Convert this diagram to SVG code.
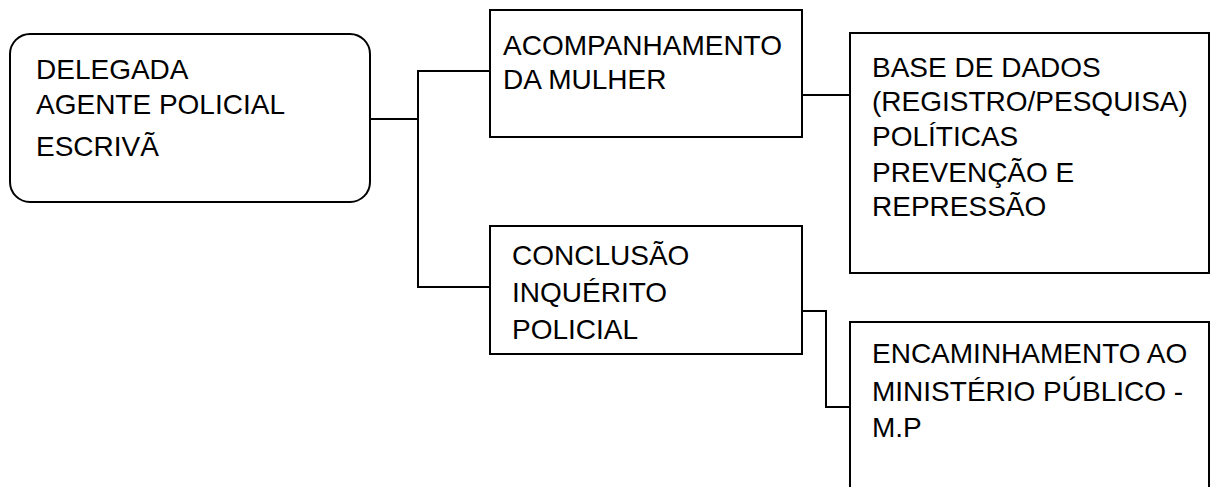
<svg xmlns="http://www.w3.org/2000/svg" width="1210" height="487" viewBox="0 0 1210 487">
<style>
.box{fill:#fff;stroke:#000;stroke-width:2}
.conn{fill:none;stroke:#000;stroke-width:2}
text{font-family:"Liberation Sans",Arial,sans-serif;font-size:28px;fill:#000}
</style>
<rect width="1210" height="487" fill="#fff"/>
<g id="connectors">
<polyline class="conn" points="370,119 418,119"/>
<polyline class="conn" points="490,71 418,71 418,287 490,287"/>
<polyline class="conn" points="802,95 850,95"/>
<polyline class="conn" points="802,311 826,311 826,407 850,407"/>
</g>
<g id="n1">
<rect class="box" x="10" y="34" width="360" height="168" rx="20" ry="20"/>
<text x="36" y="79">DELEGADA</text>
<text x="36" y="114">AGENTE POLICIAL</text>
<text x="36" y="156">ESCRIVÃ</text>
</g>
<g id="n2">
<rect class="box" x="490" y="10" width="312" height="127"/>
<text x="503" y="55">ACOMPANHAMENTO</text>
<text x="503" y="89">DA MULHER</text>
</g>
<g id="n3">
<rect class="box" x="850" y="33" width="359" height="240"/>
<text x="872" y="77">BASE DE DADOS</text>
<text x="872" y="111">(REGISTRO/PESQUISA)</text>
<text x="872" y="146">POLÍTICAS</text>
<text x="872" y="182">PREVENÇÃO E</text>
<text x="872" y="216">REPRESSÃO</text>
</g>
<g id="n4">
<rect class="box" x="490" y="226" width="312" height="128"/>
<text x="512" y="265">CONCLUSÃO</text>
<text x="512" y="302">INQUÉRITO</text>
<text x="512" y="339">POLICIAL</text>
</g>
<g id="n5">
<rect class="box" x="850" y="322" width="359" height="180"/>
<text x="872" y="363">ENCAMINHAMENTO AO</text>
<text x="872" y="401">MINISTÉRIO PÚBLICO -</text>
<text x="872" y="437">M.P</text>
</g>
</svg>
